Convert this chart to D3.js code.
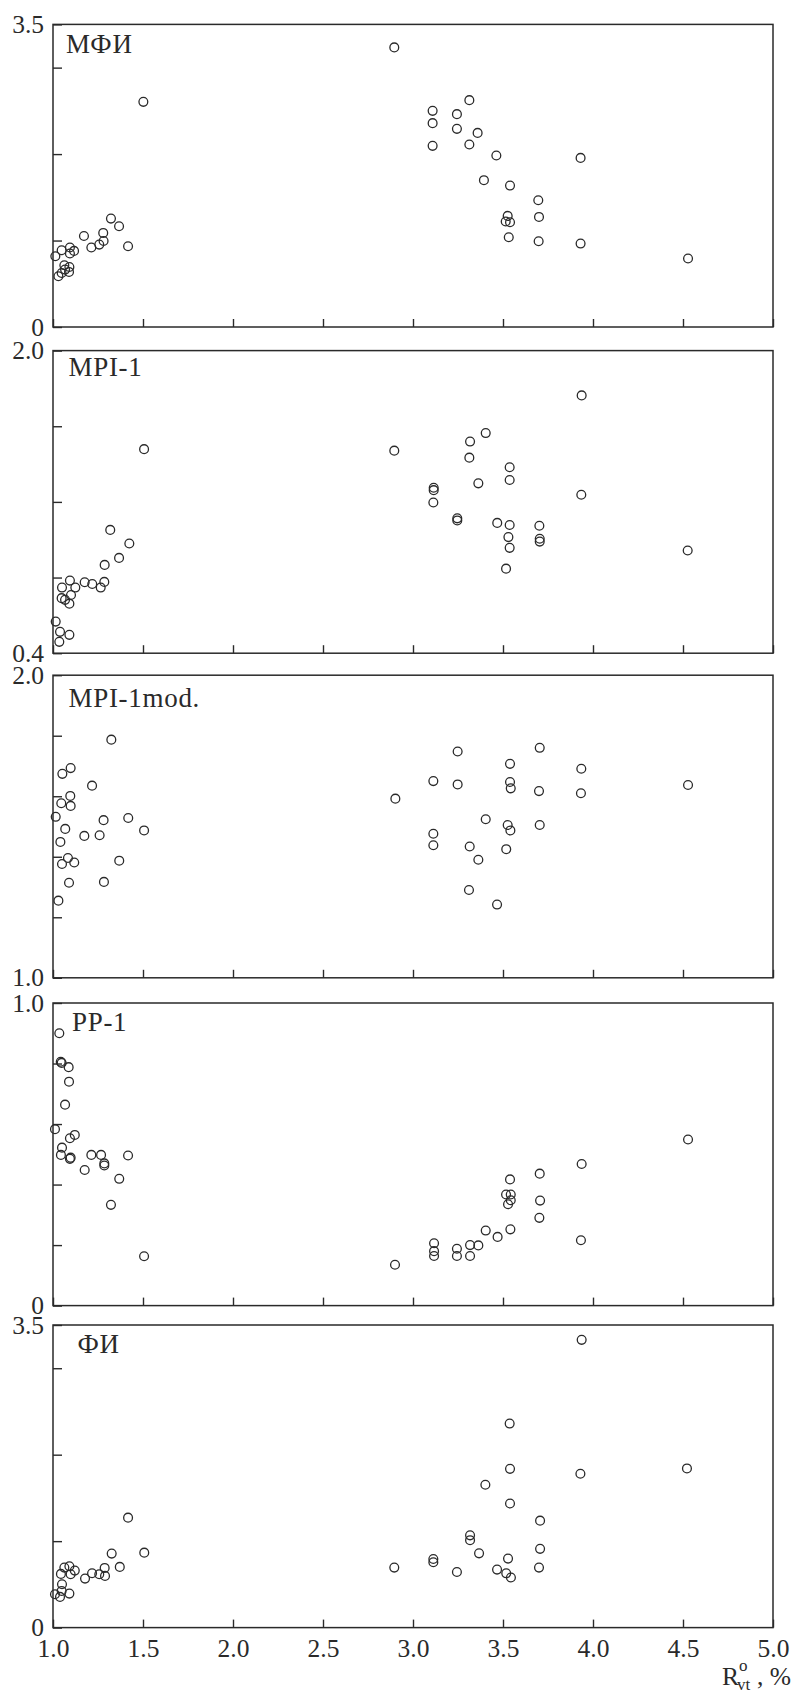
<!DOCTYPE html>
<html><head><meta charset="utf-8">
<script src="https://cdn.jsdelivr.net/npm/d3@7/dist/d3.min.js"></script>
<style>
body{margin:0;background:#fff}
svg{display:block}
svg text{font-family:"Liberation Serif","Times New Roman",Times,serif !important;fill:#2a2a2a}
</style>
</head><body>
<svg id="c" width="793" height="1694"></svg>
<script>
// ---------- data ----------
const panelNames = ["МФИ", "MPI-1", "MPI-1mod.", "PP-1", "ФИ"];
const yDomains = [[0, 3.5], [0.4, 2.0], [1.0, 2.0], [0, 1.0], [0, 3.5]];
const yTickValues = [
  [0, 1, 2, 3, 3.5],
  [0.4, 0.8, 1.2, 1.6, 2.0],
  [1.0, 1.2, 1.4, 1.6, 1.8, 2.0],
  [0, 0.2, 0.4, 0.6, 0.8, 1.0],
  [0, 1, 2, 3, 3.5]
];
const yTickLabels = [
  {0: "0", 3.5: "3.5"},
  {0.4: "0.4", 2: "2.0"},
  {1: "1.0", 2: "2.0"},
  {0: "0", 1: "1.0"},
  {0: "0", 3.5: "3.5"}
];
const xTickValues = [1.0, 1.5, 2.0, 2.5, 3.0, 3.5, 4.0, 4.5, 5.0];
const xTickLabels = ["1.0", "1.5", "2.0", "2.5", "3.0", "3.5", "4.0", "4.5", "5.0"];

const mfi = [
  [1.502,2.604],[1.322,1.254],[1.367,1.165],[1.172,1.053],[1.279,1.088],[1.281,0.995],
  [1.257,0.953],[1.213,0.919],[1.417,0.934],[1.094,0.919],[1.048,0.888],[1.117,0.880],
  [1.094,0.850],[1.013,0.818],[1.063,0.714],[1.091,0.694],[1.067,0.664],[1.089,0.637],
  [1.048,0.625],[1.030,0.587],
  [2.896,3.234],[3.313,2.624],[3.109,2.500],[3.244,2.462],[3.109,2.358],[3.244,2.292],
  [3.359,2.245],[3.109,2.095],[3.313,2.111],[3.463,1.984],[3.931,1.956],[3.394,1.698],
  [3.539,1.636],[3.696,1.466],[3.526,1.285],[3.700,1.273],[3.515,1.220],[3.539,1.212],
  [3.532,1.038],[3.698,0.992],[3.931,0.965],[4.528,0.792]
];
const mpi1 = [
  [1.506,1.479],[1.318,1.052],[1.424,0.980],[1.367,0.904],[1.287,0.867],[1.094,0.784],
  [1.176,0.775],[1.285,0.777],[1.218,0.766],[1.050,0.747],[1.124,0.747],[1.265,0.747],
  [1.100,0.708],[1.048,0.691],[1.067,0.682],[1.091,0.662],[1.015,0.567],[1.039,0.513],
  [1.091,0.497],[1.035,0.460],
  [3.937,1.763],[3.404,1.564],[3.317,1.519],[2.896,1.471],[3.313,1.434],[3.537,1.383],
  [3.537,1.316],[3.363,1.298],[3.115,1.275],[3.115,1.262],[3.935,1.238],[3.113,1.197],
  [3.246,1.113],[3.246,1.102],[3.468,1.089],[3.537,1.078],[3.702,1.074],[3.530,1.014],
  [3.704,1.005],[3.704,0.990],[3.537,0.957],[3.517,0.847],[4.526,0.943]
];
const mpi1mod = [
  [1.324,1.787],[1.098,1.693],[1.052,1.674],[1.217,1.635],[1.096,1.601],[1.046,1.577],
  [1.098,1.568],[1.015,1.532],[1.281,1.521],[1.418,1.528],[1.068,1.492],[1.506,1.487],
  [1.174,1.469],[1.259,1.471],[1.041,1.449],[1.083,1.396],[1.050,1.376],[1.118,1.381],
  [1.368,1.387],[1.089,1.314],[1.283,1.317],[1.030,1.255],
  [3.704,1.760],[3.248,1.748],[3.539,1.707],[3.935,1.691],[3.113,1.650],[3.248,1.639],
  [3.539,1.647],[3.543,1.626],[4.528,1.637],[3.700,1.617],[3.933,1.610],[2.902,1.592],
  [3.404,1.524],[3.526,1.505],[3.541,1.487],[3.704,1.505],[3.113,1.476],[3.113,1.438],
  [3.315,1.434],[3.518,1.425],[3.363,1.390],[3.311,1.290],[3.467,1.242]
];
const pp1 = [
  [1.035,0.900],[1.043,0.806],[1.048,0.802],[1.087,0.788],[1.089,0.740],[1.067,0.664],
  [1.011,0.583],[1.121,0.564],[1.094,0.553],[1.050,0.522],[1.044,0.498],[1.098,0.489],
  [1.094,0.485],[1.213,0.498],[1.267,0.498],[1.285,0.470],[1.285,0.463],[1.417,0.496],
  [1.176,0.448],[1.368,0.419],[1.322,0.333],[1.506,0.163],
  [4.528,0.549],[3.937,0.468],[3.704,0.436],[3.539,0.417],[3.517,0.367],[3.543,0.367],
  [3.543,0.348],[3.528,0.335],[3.706,0.347],[3.702,0.290],[3.404,0.248],[3.541,0.252],
  [3.470,0.227],[3.933,0.216],[3.117,0.206],[3.117,0.180],[3.117,0.164],[3.244,0.188],
  [3.244,0.164],[3.317,0.200],[3.363,0.199],[3.317,0.164],[2.900,0.135]
];
const fi = [
  [1.417,1.272],[1.507,0.867],[1.326,0.856],[1.371,0.702],[1.287,0.690],[1.091,0.710],
  [1.063,0.694],[1.121,0.659],[1.098,0.617],[1.044,0.621],[1.217,0.629],[1.257,0.617],
  [1.289,0.598],[1.178,0.567],[1.050,0.502],[1.048,0.424],[1.091,0.393],[1.011,0.386],
  [1.039,0.355],
  [3.937,3.328],[3.537,2.360],[3.539,1.836],[3.930,1.779],[4.522,1.841],[3.402,1.652],
  [3.539,1.435],[3.706,1.237],[3.317,1.067],[3.317,1.011],[3.706,0.911],[3.367,0.859],
  [3.113,0.793],[3.113,0.756],[3.528,0.798],[2.896,0.694],[3.700,0.694],[3.467,0.671],
  [3.518,0.628],[3.544,0.580],[3.244,0.643]
];
const series = [mfi, mpi1, mpi1mod, pp1, fi];

// ---------- layout ----------
const W = 793, H = 1694;
const left = 53, right = 773;
const panelTops = [24.4, 350.6, 675.2, 1003, 1325];
const panelH = 302.6;
const titlePos = [[66, 52.5], [68.5, 376], [68.5, 706.5], [72, 1031], [77.5, 1353]];
const INK = "#2a2a2a";
const FS = 25.5;

const svg = d3.select("#c");
svg.append("rect").attr("width", W).attr("height", H).attr("fill", "#fff");

const x = d3.scaleLinear().domain([1, 5]).range([left, right]);

series.forEach((data, i) => {
  const top = panelTops[i], bottom = top + panelH;
  const y = d3.scaleLinear().domain(yDomains[i]).range([bottom, top]);
  const g = svg.append("g");

  // frame
  g.append("rect")
    .attr("x", left).attr("y", top)
    .attr("width", right - left).attr("height", panelH)
    .attr("fill", "none").attr("stroke", INK).attr("stroke-width", 1.5);

  // y axis (inward ticks, labels only at ends)
  const yAx = g.append("g").attr("transform", `translate(${left},0)`)
    .call(d3.axisLeft(y).tickValues(yTickValues[i]).tickSize(-9).tickPadding(9)
      .tickFormat(v => yTickLabels[i][v] || ""));
  yAx.attr("font-family", "Liberation Serif").attr("font-size", FS);
  yAx.select(".domain").remove();
  yAx.selectAll(".tick line").attr("stroke", INK).attr("stroke-width", 1.4);
  yAx.selectAll(".tick text").attr("fill", INK);

  // x axis (inward ticks)
  const last = i === series.length - 1;
  const xAx = g.append("g").attr("transform", `translate(0,${bottom})`)
    .call(d3.axisBottom(x).tickValues(xTickValues).tickSize(-8).tickPadding(11)
      .tickFormat((v, k) => last ? xTickLabels[k] : ""));
  xAx.attr("font-family", "Liberation Serif").attr("font-size", FS);
  xAx.select(".domain").remove();
  xAx.selectAll(".tick line").attr("stroke", INK).attr("stroke-width", 1.4);
  xAx.selectAll(".tick text").attr("fill", INK);

  // title
  g.append("text")
    .attr("x", titlePos[i][0]).attr("y", titlePos[i][1])
    .attr("font-size", 27).attr("letter-spacing", 0.7)
    .text(panelNames[i]);

  // points
  g.append("g").selectAll("circle").data(data).join("circle")
    .attr("cx", d => x(d[0])).attr("cy", d => y(d[1]))
    .attr("r", 4.4)
    .attr("fill", "none").attr("stroke", INK).attr("stroke-width", 1.3);
});

// x-axis title: R with superscript o and subscript vt, then ", %"
const t = svg.append("g");
t.append("text").attr("x", 722).attr("y", 1685).attr("font-size", FS).text("R");
t.append("text").attr("x", 739).attr("y", 1671).attr("font-size", 17).text("o");
t.append("text").attr("x", 737).attr("y", 1690).attr("font-size", 17).text("vt");
t.append("text").attr("x", 757).attr("y", 1685).attr("font-size", FS).text(", %");
</script>
</body></html>
